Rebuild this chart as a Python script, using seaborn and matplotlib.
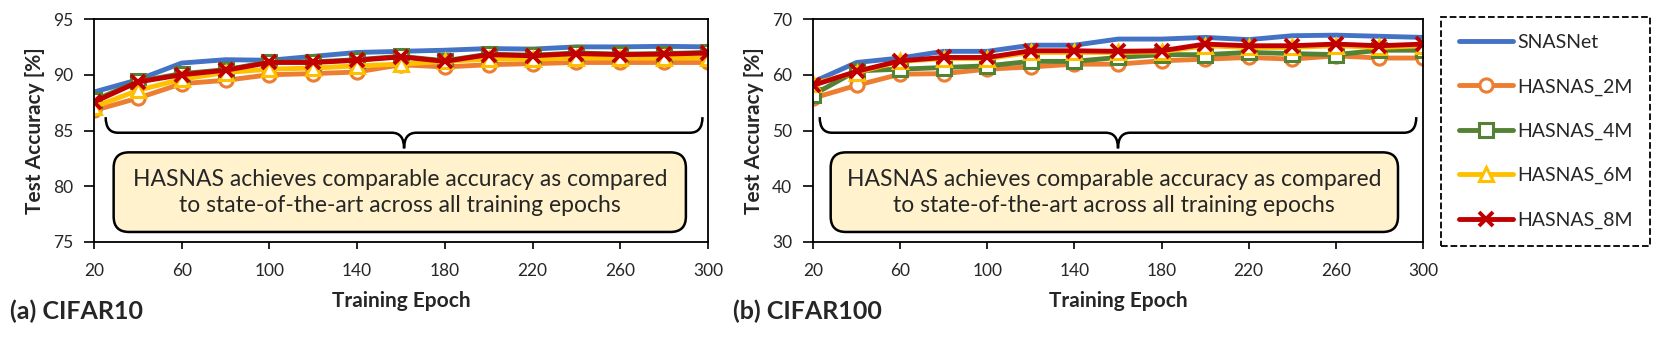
import numpy as np
import pandas as pd
import matplotlib
matplotlib.use('Agg')
import matplotlib.pyplot as plt
from matplotlib.patches import FancyBboxPatch, PathPatch
from matplotlib.path import Path
from matplotlib.lines import Line2D
import seaborn as sns

epochs = [20, 40, 60, 80, 100, 120, 140, 160, 180, 200, 220, 240, 260, 280, 300]

c10_snasnet = [88.45, 89.55, 91.05, 91.35, 91.3, 91.65, 92.0, 92.1, 92.2, 92.35, 92.3, 92.5, 92.5, 92.55, 92.5]
c10_2m = [86.8, 87.9, 89.2, 89.5, 90.0, 90.1, 90.25, 90.9, 90.7, 90.9, 91.0, 91.1, 91.1, 91.1, 91.1]
c10_4m = [87.7, 89.4, 90.1, 90.45, 91.15, 91.15, 91.35, 91.65, 91.25, 91.85, 91.75, 91.95, 91.85, 91.9, 92.0]
c10_6m = [87.1, 88.6, 89.6, 90.2, 90.5, 90.6, 90.8, 90.95, 91.2, 91.4, 91.4, 91.5, 91.5, 91.5, 91.5]
c10_8m = [87.55, 89.35, 90.0, 90.4, 91.1, 91.1, 91.3, 91.6, 91.2, 91.8, 91.7, 91.9, 91.8, 91.85, 91.95]

c100_snasnet = [58.7, 62.2, 63.0, 64.2, 64.2, 65.3, 65.3, 66.4, 66.4, 66.7, 66.3, 67.0, 67.1, 66.9, 66.7]
c100_2m = [55.8, 58.1, 60.1, 60.2, 61.0, 61.4, 61.9, 61.9, 62.5, 62.8, 63.1, 62.8, 63.4, 63.0, 63.0]
c100_4m = [56.4, 60.7, 61.0, 61.3, 61.6, 62.4, 62.4, 63.1, 63.6, 63.6, 64.0, 63.8, 63.6, 64.4, 64.4]
c100_6m = [58.4, 60.4, 62.4, 62.9, 62.9, 64.0, 64.0, 64.0, 64.1, 65.2, 64.9, 64.9, 65.2, 64.9, 65.2]
c100_8m = [58.1, 60.6, 62.5, 63.1, 63.1, 64.3, 64.3, 64.2, 64.3, 65.5, 65.2, 65.2, 65.5, 65.2, 65.5]

series_names = ['SNASNet', 'HASNAS_2M', 'HASNAS_4M', 'HASNAS_6M', 'HASNAS_8M']
colors = ['#4472C4', '#ED7D31', '#548235', '#FFC000', '#C00000']
markers = [None, 'o', 's', '^', 'x']

sns.set_style('ticks')
plt.rcParams['font.family'] = ['Lato', 'DejaVu Sans']

W, H = 1660, 339
fig = plt.figure(figsize=(W / 100, H / 100), dpi=100)
ax1 = fig.add_axes([94 / W, 1 - 242 / H, 614 / W, 223 / H])
ax2 = fig.add_axes([813 / W, 1 - 242 / H, 610 / W, 223 / H])

LW = 3.5


def marker_kw(col, mk):
    if mk is None:
        return {}
    if mk == 'x':
        return dict(marker='x', markersize=10, markeredgewidth=2.8, markeredgecolor=col)
    return dict(marker=mk, markersize=9.5, markerfacecolor='white',
                markeredgecolor=col, markeredgewidth=2.2)


def draw_panel(ax, data, ylim, yticks):
    for name, vals, col, mk in zip(series_names, data, colors, markers):
        sns.lineplot(x=epochs, y=vals, ax=ax, color=col, linewidth=LW, **marker_kw(col, mk))
    ax.set_xlim(20, 300)
    ax.set_ylim(*ylim)
    ax.set_xticks(range(20, 301, 40))
    ax.set_yticks(yticks)
    ax.tick_params(axis='both', labelsize=12.5, width=1.2, color='black', direction='out')
    ax.tick_params(axis='y', length=7, pad=8)
    ax.tick_params(axis='x', length=5, pad=10)
    for s in ax.spines.values():
        s.set_visible(True)
        s.set_color('black')
        s.set_linewidth(1.3)
    ax.set_xlabel('Training Epoch', fontsize=15, fontweight='bold', labelpad=9)
    ax.set_ylabel('Test Accuracy [%]', fontsize=15, fontweight='bold', labelpad=6)


def brace(ax, x0, x1, ytop, ymid, ytip):
    xc = (x0 + x1) / 2
    r = 0.02
    verts = [(x0, ytop), (x0, ymid), (x0 + r, ymid),
             (xc - r, ymid), (xc, ymid), (xc, ytip),
             (xc, ymid), (xc + r, ymid),
             (x1 - r, ymid), (x1, ymid), (x1, ytop)]
    codes = [Path.MOVETO, Path.CURVE3, Path.CURVE3,
             Path.LINETO, Path.CURVE3, Path.CURVE3,
             Path.CURVE3, Path.CURVE3,
             Path.LINETO, Path.CURVE3, Path.CURVE3]
    ax.add_patch(PathPatch(Path(verts, codes), transform=ax.transAxes,
                           fc='none', ec='black', lw=1.8, clip_on=False))


def note(ax, x0, x1, y0, y1):
    bb = ax.get_position()
    aspect = (bb.width * W) / (bb.height * H)
    box = FancyBboxPatch((x0, y0), x1 - x0, y1 - y0,
                         boxstyle='round,pad=0,rounding_size=0.025',
                         mutation_aspect=aspect, transform=ax.transAxes,
                         fc='#FFF2CC', ec='black', lw=1.8)
    ax.add_patch(box)
    ax.text((x0 + x1) / 2, (y0 + y1) / 2,
            'HASNAS achieves comparable accuracy as compared\nto state-of-the-art across all training epochs',
            transform=ax.transAxes, ha='center', va='center', fontsize=16.5,
            linespacing=1.3)


draw_panel(ax1, [c10_snasnet, c10_2m, c10_4m, c10_6m, c10_8m], (75, 95), range(75, 96, 5))
draw_panel(ax2, [c100_snasnet, c100_2m, c100_4m, c100_6m, c100_8m], (30, 70), range(30, 71, 10))

brace(ax1, 0.019, 0.991, 0.56, 0.49, 0.42)
note(ax1, 0.032, 0.964, 0.045, 0.402)
brace(ax2, 0.011, 0.989, 0.56, 0.49, 0.42)
note(ax2, 0.029, 0.959, 0.045, 0.402)

fig.text(10 / W, 1 - 311 / H, '(a) CIFAR10', fontsize=18, fontweight='bold', va='center')
fig.text(733 / W, 1 - 311 / H, '(b) CIFAR100', fontsize=18, fontweight='bold', va='center')

handles = [Line2D([], [], color=col, lw=LW, **marker_kw(col, mk))
           for col, mk in zip(colors, markers)]
leg = fig.legend(handles, series_names, loc='center',
                 bbox_to_anchor=((1444 + 1647) / 2 / W, 1 - 131.5 / H),
                 fontsize=14, labelspacing=1.4, handlelength=2.8, handletextpad=0.2,
                 borderpad=0.9, fancybox=False, edgecolor='black', framealpha=1)
leg.get_frame().set_linestyle('--')
leg.get_frame().set_linewidth(1.3)

fig.savefig('out.png', dpi=100)
